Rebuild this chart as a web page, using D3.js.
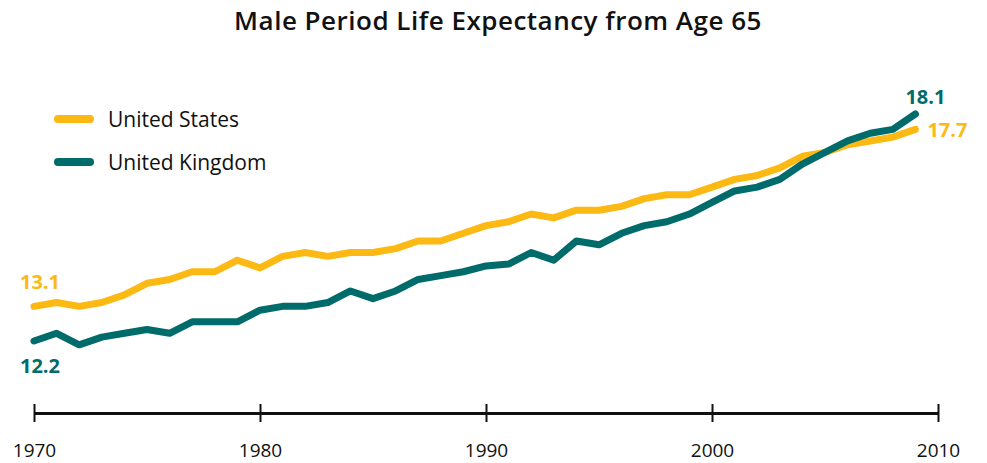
<!doctype html>
<html lang="en">
  <head>
    <meta charset="UTF-8" />
    <title>Male Period Life Expectancy from Age 65</title>
    <script src="https://d3js.org/d3.v7.min.js"></script>
    <style>
      body {
        margin: 0;
        padding: 0;
        overflow: hidden;
        background: #fff;
        font-family: "Open Sans", Lato, sans-serif;
      }
      svg {
        display: block;
      }
    </style>
  </head>
  <body>
    <script>
      const years = d3.range(1970, 2010);
      const usValues = [
        13.1, 13.2, 13.1, 13.2, 13.4, 13.7, 13.8, 14.0, 14.0, 14.3,
        14.1, 14.4, 14.5, 14.4, 14.5, 14.5, 14.6, 14.8, 14.8, 15.0,
        15.2, 15.3, 15.5, 15.4, 15.6, 15.6, 15.7, 15.9, 16.0, 16.0,
        16.2, 16.4, 16.5, 16.7, 17.0, 17.1, 17.3, 17.4, 17.5, 17.7,
      ];
      const ukValues = [
        12.2, 12.4, 12.1, 12.3, 12.4, 12.5, 12.4, 12.7, 12.7, 12.7,
        13.0, 13.1, 13.1, 13.2, 13.5, 13.3, 13.5, 13.8, 13.9, 14.0,
        14.15, 14.2, 14.5, 14.3, 14.8, 14.7, 15.0, 15.2, 15.3, 15.5,
        15.8, 16.1, 16.2, 16.4, 16.8, 17.1, 17.4, 17.6, 17.7, 18.1,
      ];
      const seriesNames = ["United States", "United Kingdom"];
      const seriesColors = ["#fdb913", "#006b6b"];
      const tickYears = [1970, 1980, 1990, 2000, 2010];

      const width = 987;
      const height = 463;

      const x = d3.scaleLinear().domain([1970, 2010]).range([34, 938]);
      const y = d3.scaleLinear().domain([12.2, 18.1]).range([341, 114]);

      const svg = d3
        .select("body")
        .append("svg")
        .attr("width", width)
        .attr("height", height);

      svg
        .append("text")
        .attr("x", 498)
        .attr("y", 30)
        .attr("text-anchor", "middle")
        .style("font", "600 26px 'Open Sans', sans-serif")
        .style("letter-spacing", "0.5px")
        .attr("fill", "#111")
        .text("Male Period Life Expectancy from Age 65");

      // x axis
      const axis = svg
        .append("g")
        .attr("transform", "translate(0,413)")
        .call(d3.axisBottom(x).tickValues(tickYears).tickFormat(d3.format("d")).tickSize(0).tickPadding(0));
      axis.select(".domain").attr("stroke", "#111").attr("stroke-width", 3);
      axis.selectAll(".tick text").remove();
      axis
        .selectAll(".tick")
        .append("line")
        .attr("y1", -9)
        .attr("y2", 9)
        .attr("stroke", "#111")
        .attr("stroke-width", 2);
      axis
        .selectAll(".tick")
        .append("text")
        .attr("y", 44)
        .attr("text-anchor", "middle")
        .attr("fill", "#111")
        .style("font", "19px 'Open Sans', sans-serif")
        .text((d) => d);

      const line = d3
        .line()
        .x((d) => x(d[0]))
        .y((d) => y(d[1]));

      const series = [usValues, ukValues];
      series.forEach((vals, i) => {
        svg
          .append("path")
          .datum(years.map((yr, j) => [yr, vals[j]]))
          .attr("fill", "none")
          .attr("stroke", seriesColors[i])
          .attr("stroke-width", 7)
          .attr("stroke-linecap", "round")
          .attr("stroke-linejoin", "round")
          .attr("d", line);
      });

      // legend
      const legend = svg.append("g");
      seriesNames.forEach((name, i) => {
        const ly = 119 + i * 43;
        legend
          .append("line")
          .attr("x1", 58)
          .attr("x2", 90)
          .attr("y1", ly)
          .attr("y2", ly)
          .attr("stroke", seriesColors[i])
          .attr("stroke-width", 8)
          .attr("stroke-linecap", "round");
        legend
          .append("text")
          .attr("x", 108)
          .attr("y", ly + 8)
          .attr("fill", "#111")
          .style("font", "21px 'Open Sans', sans-serif")
          .text(name);
      });

      // endpoint labels
      const last = years.length - 1;
      const endLabels = [
        { v: usValues[0], c: seriesColors[0], x: x(years[0]) - 14, y: y(usValues[0]) - 17 },
        { v: ukValues[0], c: seriesColors[1], x: x(years[0]) - 14, y: y(ukValues[0]) + 32 },
        { v: ukValues[last], c: seriesColors[1], x: x(years[last]) - 10, y: y(ukValues[last]) - 10 },
        { v: usValues[last], c: seriesColors[0], x: x(years[last]) + 12, y: y(usValues[last]) + 8 },
      ];
      svg
        .selectAll("text.end")
        .data(endLabels)
        .join("text")
        .attr("class", "end")
        .attr("x", (d) => d.x)
        .attr("y", (d) => d.y)
        .attr("fill", (d) => d.c)
        .style("font", "bold 20px 'Open Sans', sans-serif")
        .text((d) => d3.format(".1f")(d.v));
    </script>
  </body>
</html>
